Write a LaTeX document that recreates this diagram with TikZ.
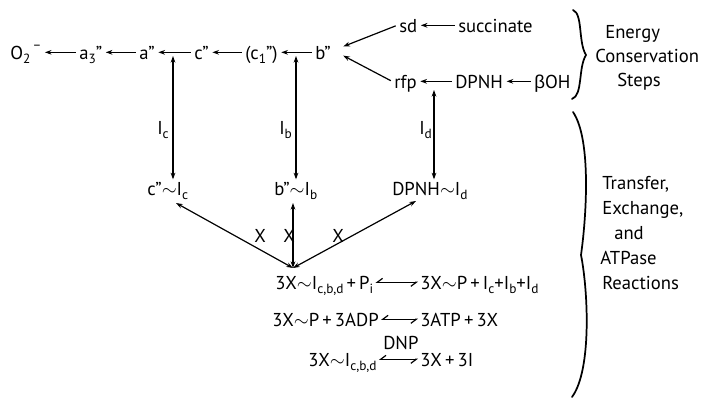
\documentclass[tikz,border=0pt]{standalone}
\usepackage{fontspec}
\setmainfont{PT Sans}
\newfontfamily\grk{Liberation Sans}
\usetikzlibrary{arrows.meta}
\newcommand\dsub[1]{\raisebox{-0.5ex}{\fontsize{10}{10}\selectfont #1}}
\newcommand\dsup[1]{\raisebox{1.0ex}{\fontsize{10}{10}\selectfont #1}}
\newcommand\tI{{\rmfamily I}}
\newcommand\tld{\ensuremath{\sim}}
\begin{document}
\begin{tikzpicture}[x=0.75pt,y=-0.75pt,
  every node/.style={inner sep=1.5pt, text height=10pt, text depth=0pt, anchor=base west, font=\fontsize{14}{16}\selectfont},
  arr/.style={-{Stealth[length=5pt,width=3.5pt]}, line width=0.9pt, shorten >=1pt, shorten <=1pt},
  darr/.style={{Stealth[length=5pt,width=3.5pt]}-{Stealth[length=5pt,width=3.5pt]}, line width=0.9pt},
  eqarr/.style={{Straight Barb[right,length=4pt,width=6pt]}-{Straight Barb[right,length=4pt,width=6pt]}, line width=0.9pt},
  bracestyle/.style={line width=1.3pt, line cap=round}]
\useasboundingbox (0,0) rectangle (701,400);

% top chain
\node (o2) at (8,59) {O\dsub{2}\dsup{\,–}};
\node (a3) at (77,59) {a\dsub{3}"};
\node (ap) at (137,59) {a"};
\node (cp) at (192,59) {c"};
\node (c1) at (243,59) {(c\dsub{1}")};
\node (bp) at (313,59) {b"};
\node (sd) at (397,32) {sd};
\node (succ) at (456,32) {succinate};
\node (rfp) at (392,88) {rfp};
\node (dpnh) at (453,88) {DPNH};
\node (boh) at (532,88) {{\grk β}OH};

\draw[arr] (a3) -- (o2);
\draw[arr] (ap) -- (a3);
\draw[arr] (cp) -- (ap);
\draw[arr] (c1) -- (cp);
\draw[arr] (bp) -- (c1);
\draw[arr] (succ) -- (sd);
\draw[arr] (dpnh) -- (rfp);
\draw[arr] (boh) -- (dpnh);
\coordinate (bt) at (342,47);
\coordinate (bb) at (342,55);
\draw[arr] (sd.west) -- (bt);
\draw[arr] (rfp.west) -- (bb);

% intermediates
\node (ci) at (145,195) {c"\tld\tI\dsub{c}};
\node (bi) at (272,195) {b"\tld\tI\dsub{b}};
\node (di) at (390,195) {DPNH\tld\tI\dsub{d}};

\node (lc) at (155,134) {\tI\dsub{c}};
\node (lb) at (277,134) {\tI\dsub{b}};
\node (ld) at (417,134) {\tI\dsub{d}};

\coordinate (ict) at (173,56);
\coordinate (ibt) at (296,56);
\coordinate (idt) at (434,90);
\draw[darr] (ict) -- (ict |- ci.north);
\draw[darr] (ibt) -- (ibt |- bi.north);
\draw[darr] (idt) -- (idt |- di.north);

% X arrows
\coordinate (conv) at (293,268);
\coordinate (cis) at (176,203);
\coordinate (bis) at (293,203);
\coordinate (dis) at (416,201);
\draw[darr] (cis) -- (conv);
\draw[darr] (bis) -- (conv);
\draw[darr] (dis) -- (conv);
\node (x1) at (252,242) {X};
\node (x2) at (281,242) {X};
\node (x3) at (330,242) {X};

% equations
\node (e1l) at (273,289) {3X\tld\tI\dsub{c,b,d}\,+\,P\dsub{i}};
\node (e1r) at (418,289) {3X\tld P\,+\,\tI\dsub{c}+\tI\dsub{b}+\tI\dsub{d}};
\draw[eqarr] (e1l.east) -- (e1r.west);
\node (e2l) at (270,326) {3X\tld P\,+\,3ADP};
\node (e2r) at (418,326) {3ATP\,+\,3X};
\draw[eqarr] (e2l.east) -- (e2r.west);
\node (e3l) at (306,366) {3X\tld\tI\dsub{c,b,d}};
\node (e3r) at (418,366) {3X\,+\,3\tI};
\node (dnp) at (381,349) {DNP};
\draw[eqarr] (e3l.east) -- (e3r.west);

% braces
\draw[bracestyle] (573,10) .. controls (583,14) and (578,42) .. (586,55)
                            .. controls (578,68) and (583,95) .. (572,99);
\draw[bracestyle] (573,112) .. controls (592,140) and (586,220) .. (581,255)
                            .. controls (588,290) and (592,370) .. (572,397);

\node (en) at (603,38) {Energy};
\node (co) at (593,62) {Conservation};
\node (st) at (615,86) {Steps};

\node (tr) at (600,189) {Transfer,};
\node (ex) at (600,214) {Exchange,};
\node (an) at (612,239) {and};
\node (at) at (598,264) {ATPase};
\node (re) at (600,289) {Reactions};
\end{tikzpicture}
\end{document}
